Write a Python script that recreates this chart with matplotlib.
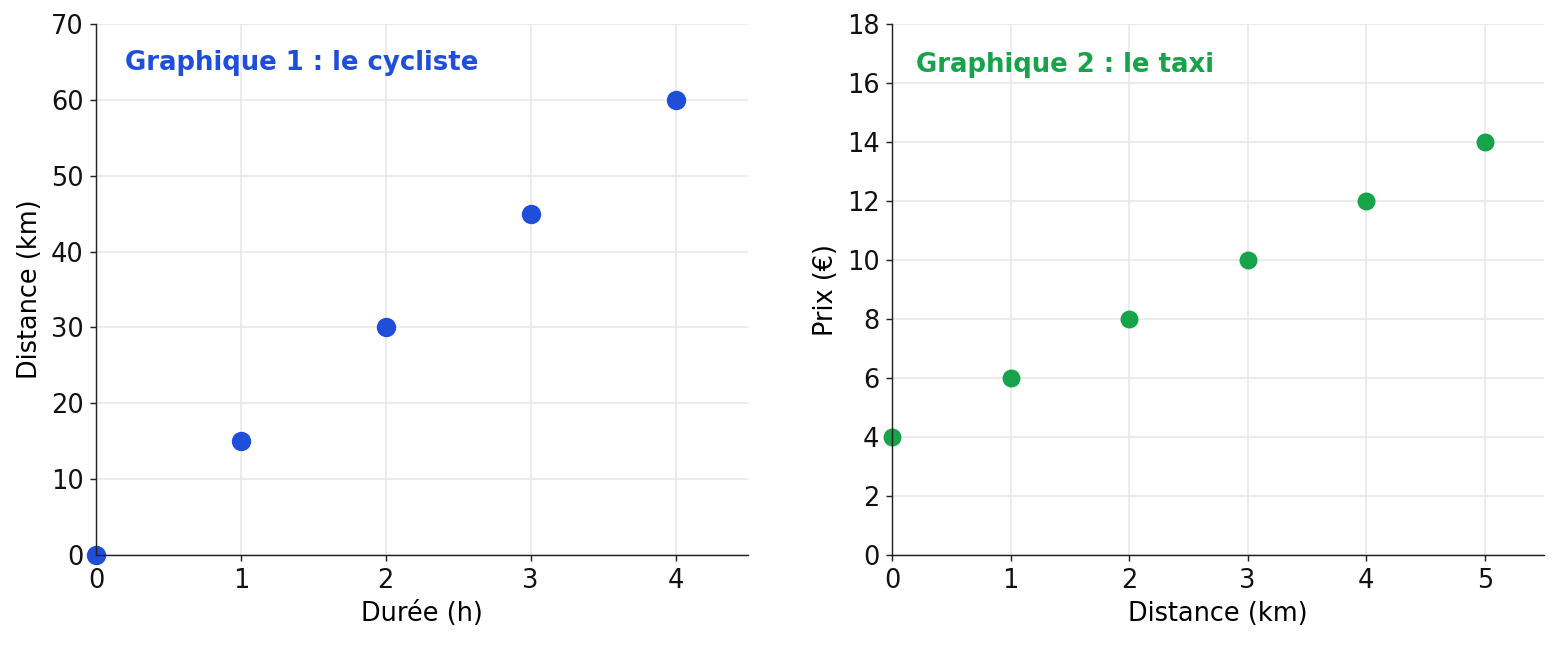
import matplotlib
matplotlib.use("Agg")
import matplotlib.pyplot as plt

# Graphique 1 : le cycliste
duree_h = [0, 1, 2, 3, 4]
distance_km = [0, 15, 30, 45, 60]

# Graphique 2 : le taxi
taxi_km = [0, 1, 2, 3, 4, 5]
prix_euro = [4, 6, 8, 10, 12, 14]

blue = "#1f4fd8"
green = "#16a34a"

plt.rcParams["font.family"] = "DejaVu Sans"
plt.rcParams["font.size"] = 14.2

fig = plt.figure(figsize=(1559 / 130, 645 / 130), dpi=130)
ax1 = fig.add_axes([0.0616, 0.1395, 0.4182, 0.8233])
ax2 = fig.add_axes([0.5722, 0.1395, 0.4182, 0.8233])


def style(ax):
    for s in ["top", "right"]:
        ax.spines[s].set_visible(False)
    for s in ["left", "bottom"]:
        ax.spines[s].set_color("#222222")
    ax.grid(True, color="#e8e8ec", linewidth=0.9)
    ax.set_axisbelow(True)
    ax.tick_params(colors="#222222", labelcolor="#111111", labelsize=14.2)


# cycliste
ax1.scatter(duree_h, distance_km, s=95, color=blue, zorder=2.4, clip_on=False)
ax1.set_xlim(0, 4.5)
ax1.set_ylim(0, 70)
ax1.set_xticks([0, 1, 2, 3, 4])
ax1.set_yticks(range(0, 71, 10))
ax1.set_xlabel("Durée (h)")
ax1.set_ylabel("Distance (km)")
ax1.text(0.2, 64.8, "Graphique 1 : le cycliste", color=blue, fontweight="bold",
         fontsize=14.4, va="center", ha="left")
style(ax1)

# taxi
ax2.scatter(taxi_km, prix_euro, s=80, color=green, zorder=2.4, clip_on=False)
ax2.set_xlim(0, 5.5)
ax2.set_ylim(0, 18)
ax2.set_xticks([0, 1, 2, 3, 4, 5])
ax2.set_yticks(range(0, 19, 2))
ax2.set_xlabel("Distance (km)")
ax2.set_ylabel("Prix (€)")
ax2.text(0.2, 16.6, "Graphique 2 : le taxi", color=green, fontweight="bold",
         fontsize=14.4, va="center", ha="left")
style(ax2)

fig.savefig("out.png", dpi=130)
